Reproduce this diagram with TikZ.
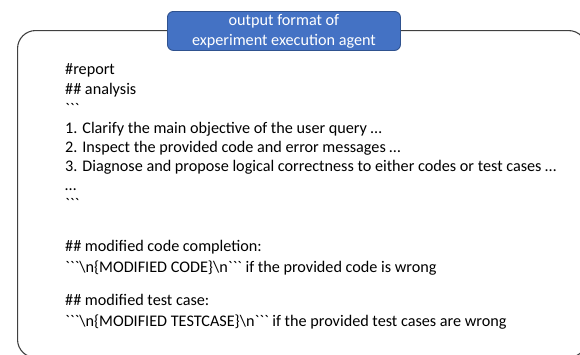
\documentclass[tikz,border=0pt]{standalone}
\usepackage{fontspec}
\setmainfont{Carlito}[Ligatures=TeXOff]
\definecolor{hdrfill}{HTML}{4472C4}
\definecolor{hdrline}{HTML}{2F528F}
\definecolor{framecol}{HTML}{404040}
\newcommand{\bq}{\symbol{96}}
\newcommand{\bqs}{\bq\bq\bq}
\begin{document}
\begin{tikzpicture}[x=1pt,y=-1pt,
  frame/.style={draw=framecol, line width=1.1pt, rounded corners=18pt, anchor=north west, inner sep=0pt},
  header/.style={draw=hdrline, line width=0.9pt, fill=hdrfill, rounded corners=6pt, anchor=north west, inner sep=0pt},
  hdrtext/.style={text=white, align=center, font=\fontsize{16.2}{20}\selectfont, inner sep=0pt},
  txt/.style={anchor=base west, inner sep=0pt, font=\fontsize{16.2}{19}\selectfont}]
\useasboundingbox (0,0) rectangle (580,354);
\clip (0,0) rectangle (580,354);
\node[frame, minimum width=569pt, minimum height=327pt] (outer) at (17,30) {};
\node[header, minimum width=233pt, minimum height=39pt] (hdr) at (167,11) {};
\node[hdrtext] (hdrlbl) at (hdr.center) {output format of\\experiment execution agent};
\node[txt] (l1) at (65,74) {\#report};
\node[txt] (l2) at (65,94) {\#\# analysis};
\node[txt] (l3) at (65,114) {\bqs};
\node[txt] (l4) at (65,133) {1. Clarify the main objective of the user query …};
\node[txt] (l5) at (65,152) {2. Inspect the provided code and error messages …};
\node[txt] (l6) at (65,171) {3. Diagnose and propose logical correctness to either codes or test cases …};
\node[txt] (l7) at (65,190) {…};
\node[txt] (l8) at (65,209) {\bqs};
\node[txt] (l9) at (65,251) {\#\# modified code completion:};
\node[txt] (l10) at (65,272) {\bqs\textbackslash n\{MODIFIED CODE\}\textbackslash n\bqs\ if the provided code is wrong};
\node[txt] (l11) at (65,305) {\#\# modified test case:};
\node[txt] (l12) at (65,326) {\bqs\textbackslash n\{MODIFIED TESTCASE\}\textbackslash n\bqs\ if the provided test cases are wrong};
\end{tikzpicture}
\end{document}
